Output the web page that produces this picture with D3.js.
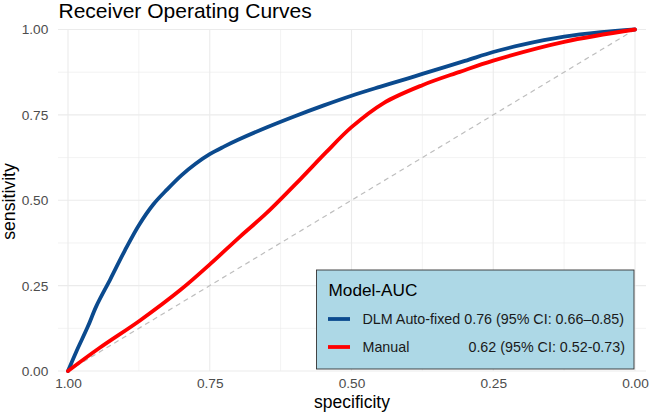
<!DOCTYPE html>
<html><head><meta charset="utf-8">
<script src="https://cdn.jsdelivr.net/npm/d3@7"></script>
<style>body{margin:0;background:#fff;} svg{display:block;font-family:"Liberation Sans",Arial,sans-serif;}</style>
</head><body>
<script>
const blueSpec = [1.00, 0.985, 0.965, 0.95, 0.925, 0.90, 0.875, 0.85, 0.825, 0.80, 0.775, 0.75, 0.725, 0.70, 0.65, 0.60, 0.55, 0.50, 0.45, 0.40, 0.375, 0.30, 0.25, 0.20, 0.125, 0.06, 0.0];
const blueSens = [0.00, 0.058, 0.13, 0.19, 0.27, 0.352, 0.427, 0.487, 0.532, 0.573, 0.607, 0.635, 0.657, 0.677, 0.713, 0.746, 0.777, 0.806, 0.832, 0.857, 0.870, 0.908, 0.934, 0.955, 0.979, 0.992, 1.0];
const redSpec = [1.0, 0.944, 0.873, 0.802, 0.748, 0.697, 0.65, 0.59, 0.545, 0.50, 0.444, 0.375, 0.309, 0.25, 0.125, 0.0];
const redSens = [0.0, 0.068, 0.148, 0.237, 0.315, 0.393, 0.462, 0.562, 0.64, 0.714, 0.784, 0.837, 0.876, 0.909, 0.964, 1.0];
const tickVals = [1.00, 0.75, 0.50, 0.25, 0.00];
const tickLabels = ["1.00", "0.75", "0.50", "0.25", "0.00"];
const minorVals = [0.875, 0.625, 0.375, 0.125];
const legendTitle = "Model-AUC";
const seriesNames = ["DLM Auto-fixed", "Manual"];
const seriesAUC = ["0.76 (95% CI: 0.66\u20130.85)", "0.62 (95% CI: 0.52-0.73)"];
const colors = ["#0b4a8e", "#ff0000"];

const W = 649, H = 414;
const FONT = "Liberation Sans, Arial, sans-serif";
const svg = d3.select("body").append("svg").attr("width", W).attr("height", H);
const panel = {left: 58, right: 646, top: 30, bottom: 371};
const x = d3.scaleLinear().domain([1, 0]).range([68, 635]);
const y = d3.scaleLinear().domain([0, 1]).range([371, 29.5]);

// minor grid
svg.selectAll(".mx").data(minorVals).enter().append("line")
  .attr("x1", d => x(d)).attr("x2", d => x(d)).attr("y1", panel.top).attr("y2", panel.bottom)
  .attr("stroke", "#ebebeb").attr("stroke-width", 0.6);
svg.selectAll(".my").data(minorVals).enter().append("line")
  .attr("y1", d => y(d)).attr("y2", d => y(d)).attr("x1", panel.left).attr("x2", panel.right)
  .attr("stroke", "#ebebeb").attr("stroke-width", 0.6);
// major grid
svg.selectAll(".gx").data(tickVals).enter().append("line")
  .attr("x1", d => x(d)).attr("x2", d => x(d)).attr("y1", panel.top).attr("y2", panel.bottom)
  .attr("stroke", "#ebebeb").attr("stroke-width", 1.1);
svg.selectAll(".gy").data(tickVals).enter().append("line")
  .attr("y1", d => y(d)).attr("y2", d => y(d)).attr("x1", panel.left).attr("x2", panel.right)
  .attr("stroke", "#ebebeb").attr("stroke-width", 1.1);

// axes (labels only)
const xAxis = d3.axisBottom(x).tickValues(tickVals).tickFormat((d, i) => tickLabels[i]).tickSize(0).tickPadding(7.5);
const gx = svg.append("g").attr("transform", `translate(0,${panel.bottom})`).call(xAxis);
gx.select(".domain").remove();
gx.selectAll("text").attr("fill", "#4d4d4d").style("font-size", "13.7px").style("font-family", FONT);
const yAxis = d3.axisLeft(y).tickValues(tickVals).tickFormat((d, i) => tickLabels[i]).tickSize(0).tickPadding(9.7);
const gy = svg.append("g").attr("transform", `translate(${panel.left},0)`).call(yAxis);
gy.select(".domain").remove();
gy.selectAll("text").attr("fill", "#4d4d4d").style("font-size", "13.7px").style("font-family", FONT);

// diagonal
svg.append("line").attr("x1", x(1)).attr("y1", y(0)).attr("x2", x(0)).attr("y2", y(1))
  .attr("stroke", "#bebebe").attr("stroke-width", 1.2).attr("stroke-dasharray", "5,4");

const line = d3.line().x(d => x(d[0])).y(d => y(d[1])).curve(d3.curveCatmullRom.alpha(0.5));
const blueData = blueSpec.map((s, i) => [s, blueSens[i]]);
const redData = redSpec.map((s, i) => [s, redSens[i]]);
svg.append("path").datum(blueData).attr("d", line).attr("fill", "none").attr("stroke", colors[0]).attr("stroke-width", 3.8).attr("stroke-linecap", "round");
svg.append("path").datum(redData).attr("d", line).attr("fill", "none").attr("stroke", colors[1]).attr("stroke-width", 3.8).attr("stroke-linecap", "round");

// titles
svg.append("text").attr("x", 58.5).attr("y", 17.5).text("Receiver Operating Curves")
  .style("font-size", "21px").attr("fill", "#000");
svg.append("text").attr("x", (panel.left + panel.right) / 2).attr("y", 408).attr("text-anchor", "middle")
  .text("specificity").style("font-size", "17.5px").attr("fill", "#000");
svg.append("text").attr("transform", `translate(15,${(panel.top + panel.bottom) / 2 + 1}) rotate(-90)`).attr("text-anchor", "middle")
  .text("sensitivity").style("font-size", "17.7px").attr("fill", "#000");

// legend
const lg = svg.append("g");
lg.append("rect").attr("x", 316.5).attr("y", 270).attr("width", 317.5).attr("height", 99)
  .attr("fill", "#add8e6").attr("stroke", "#333").attr("stroke-width", 0.9);
lg.append("text").attr("x", 328.5).attr("y", 295.5).text(legendTitle).style("font-size", "17.2px").attr("fill", "#000");
const ly = [319, 347];
lg.append("line").attr("x1", 328).attr("x2", 350).attr("y1", ly[0]).attr("y2", ly[0]).attr("stroke", colors[0]).attr("stroke-width", 3.8);
lg.append("text").attr("x", 362.5).attr("y", ly[0] + 5).text(seriesNames[0] + " " + seriesAUC[0]).style("font-size", "14.3px").attr("fill", "#1a1a1a");
lg.append("line").attr("x1", 328).attr("x2", 350).attr("y1", ly[1]).attr("y2", ly[1]).attr("stroke", colors[1]).attr("stroke-width", 3.8);
lg.append("text").attr("x", 362.5).attr("y", ly[1] + 5).text(seriesNames[1]).style("font-size", "14.3px").attr("fill", "#1a1a1a");
lg.append("text").attr("x", 625).attr("y", ly[1] + 5).attr("text-anchor", "end").text(seriesAUC[1]).style("font-size", "14.3px").attr("fill", "#1a1a1a");
</script>
</body></html>
